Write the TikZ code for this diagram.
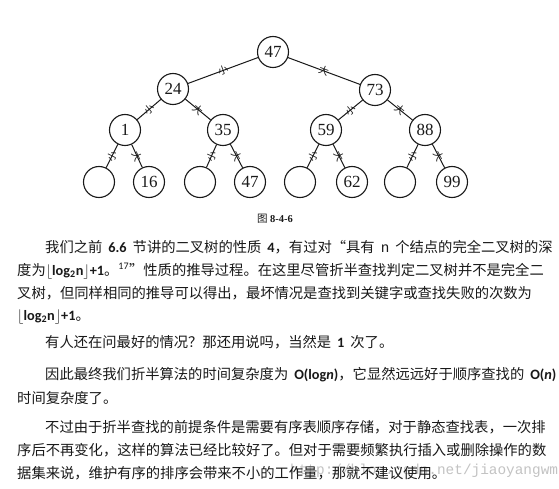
\documentclass[tikz,border=0pt]{standalone}
\usepackage{fontspec}
\setmainfont{Liberation Serif}
\newfontfamily\cjk{Noto Sans CJK SC}
\newfontfamily\latinf{Carlito}
\newfontfamily\monof{Liberation Mono}
\XeTeXlinebreaklocale "zh"
\XeTeXlinebreakskip=0pt plus 3pt
\definecolor{ink}{RGB}{25,25,25}
\definecolor{wmark}{RGB}{195,195,195}
\newcommand\fullline[1]{\hbox to 516pt{#1}}
\newcommand\indline[1]{\hbox to 488pt{#1}}
\newcommand\gap{\hskip 6pt\relax}
\newcommand\flog{$\lfloor${\latinf\bfseries log\textsubscript{2}n}$\rfloor${\latinf\bfseries +1}}
\tikzset{
  tnode/.style={circle,draw=ink,line width=1.1pt,minimum size=31pt,inner sep=0pt,
    font=\fontsize{17}{17}\selectfont,text=ink},
  tedge/.style={draw=ink,line width=1pt},
  elab/.style={inner sep=0pt,sloped,font=\cjk\fontsize{10}{10}\selectfont,text=ink},
  bodyline/.style={anchor=base west,inner sep=0pt,text=ink,font=\cjk\fontsize{14.3}{17}\selectfont},
}
\begin{document}
\begin{tikzpicture}[x=1pt,y=-1pt]
\useasboundingbox[fill=white] (0,0) rectangle (559,489);
% tree
\node[tnode] (r)   at (273,52)  {47};
\node[tnode] (a)   at (173,89)  {24};
\node[tnode] (b)   at (375,90)  {73};
\node[tnode] (a1)  at (125,130) {1};
\node[tnode] (a2)  at (223,130) {35};
\node[tnode] (b1)  at (326,130) {59};
\node[tnode] (b2)  at (425,130) {88};
\node[tnode] (e1)  at (99,182)  {};
\node[tnode] (n16) at (149,182) {16};
\node[tnode] (e2)  at (200,182) {};
\node[tnode] (n47) at (250,182) {47};
\node[tnode] (e3)  at (300,182) {};
\node[tnode] (n62) at (352,182) {62};
\node[tnode] (e4)  at (400,182) {};
\node[tnode] (n99) at (452,182) {99};
\draw[tedge] (r) -- node[elab]{小} (a);
\draw[tedge] (r) -- node[elab]{大} (b);
\draw[tedge] (a) -- node[elab]{小} (a1);
\draw[tedge] (a) -- node[elab]{大} (a2);
\draw[tedge] (b) -- node[elab]{小} (b1);
\draw[tedge] (b) -- node[elab]{大} (b2);
\draw[tedge] (a1) -- node[elab]{小} (e1);
\draw[tedge] (a1) -- node[elab]{大} (n16);
\draw[tedge] (a2) -- node[elab]{小} (e2);
\draw[tedge] (a2) -- node[elab]{大} (n47);
\draw[tedge] (b1) -- node[elab]{小} (e3);
\draw[tedge] (b1) -- node[elab]{大} (n62);
\draw[tedge] (b2) -- node[elab]{小} (e4);
\draw[tedge] (b2) -- node[elab]{大} (n99);
% caption
\node[inner sep=0pt,text=ink,font=\fontsize{10.5}{12}\selectfont] (cap) at (275,219) {{\cjk 图} \textbf{8-4-6}};
% watermark
\node[anchor=base west,inner sep=0pt,text=wmark,font=\monof\fontsize{14.4}{16}\selectfont] (wm) at (290,474) {http://blog.csdn.net/jiaoyangwm};
% body text
\node[bodyline] (l1) at (45,252) {\indline{我们之前\gap{\latinf\bfseries 6.6}\gap 节讲的二叉树的性质\gap{\latinf\bfseries 4}，有过对“具有\gap{\monof n}\gap 个结点的完全二叉树的深}};
\node[bodyline] (l2) at (17,275) {\fullline{度为\flog。\textsuperscript{\latinf 17}”性质的推导过程。在这里尽管折半查找判定二叉树并不是完全二}};
\node[bodyline] (l3) at (17,298) {\fullline{叉树，但同样相同的推导可以得出，最坏情况是查找到关键字或查找失败的次数为}};
\node[bodyline] (l4) at (17,320) {\flog。};
\node[bodyline] (l5) at (45,347) {有人还在问最好的情况？那还用说吗，当然是\gap{\latinf\bfseries 1}\gap 次了。};
\node[bodyline] (l6) at (45,379) {\indline{因此最终我们折半算法的时间复杂度为\gap{\latinf\bfseries O(log\textit{n})}，它显然远远好于顺序查找的\gap{\latinf\bfseries O(\textit{n})}}};
\node[bodyline] (l7) at (17,403) {时间复杂度了。};
\node[bodyline] (l8) at (45,432) {\indline{不过由于折半查找的前提条件是需要有序表顺序存储，对于静态查找表，一次排}};
\node[bodyline] (l9) at (17,455) {\fullline{序后不再变化，这样的算法已经比较好了。但对于需要频繁执行插入或删除操作的数}};
\node[bodyline] (l10) at (17,478) {据集来说，维护有序的排序会带来不小的工作量，那就不建议使用。};
\end{tikzpicture}
\end{document}
